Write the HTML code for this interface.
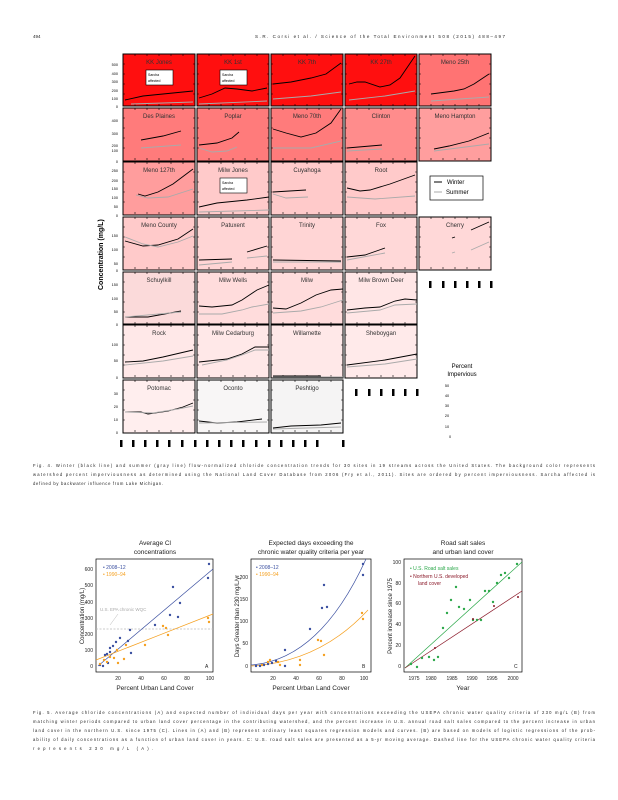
<!DOCTYPE html>
<html><head><meta charset="utf-8"><style>
html,body{margin:0;padding:0;background:#fff;}
svg{display:block;font-family:"Liberation Sans",sans-serif;}
.pl text{font-size:6px;fill:#333;}
.k{fill:none;stroke:#000;stroke-width:0.9}
.g{fill:none;stroke:#aaa;stroke-width:0.9}
.cap{font-size:4.2px;fill:#222}
</style></head><body>
<svg width="618" height="800" viewBox="0 0 618 800" xmlns="http://www.w3.org/2000/svg">
<text x="33" y="38" font-size="4.5" fill="#222">494</text>
<text x="255" y="38" font-size="4.5" fill="#222" textLength="250">S.R. Corsi et al. / Science of the Total Environment 508 (2015) 488–497</text>

<defs>
<g id="tk" stroke="#000" stroke-width="0.6">
<path d="M12,52v-2M24,52v-2M36,52v-2M48,52v-2M60,52v-2M12,0v2M24,0v2M36,0v2M48,0v2M60,0v2M0,10h2M0,20h2M0,30h2M0,40h2M72,10h-2M72,20h-2M72,30h-2M72,40h-2"/>
</g>
<g id="sb"><rect x="23" y="16" width="27" height="15" fill="#fff" stroke="#000" stroke-width="0.6"/><text x="25" y="22" font-size="3.5" fill="#000">Sarcha</text><text x="25" y="28" font-size="3.5" fill="#000">affected</text></g>
</defs>

<g class="pl">
<!-- Row 1 -->
<g transform="translate(123,54)"><rect width="72" height="52" fill="#ff0f0f" stroke="#000"/><use href="#tk"/><path class="k" d="M2,46 L20,42 L40,40 L70,37"/><path class="g" d="M8,50 L40,49 L70,48"/><use href="#sb"/><text x="36" y="10" text-anchor="middle">KK Jones</text></g>
<g transform="translate(197,54)"><rect width="72" height="52" fill="#ff0f0f" stroke="#000"/><use href="#tk"/><path class="k" d="M2,44 L15,40 L28,34 L40,35 L55,37 L70,34"/><path class="g" d="M2,50 L70,47"/><use href="#sb"/><text x="36" y="10" text-anchor="middle">KK 1st</text></g>
<g transform="translate(271,54)"><rect width="72" height="52" fill="#ff0f0f" stroke="#000"/><use href="#tk"/><path class="k" d="M2,30 L20,28 L40,24 L55,20 L70,9"/><path class="g" d="M2,45 L40,42 L70,38"/><text x="36" y="10" text-anchor="middle">KK 7th</text></g>
<g transform="translate(345,54)"><rect width="72" height="52" fill="#ff0f0f" stroke="#000"/><use href="#tk"/><path class="k" d="M4,30 L12,28 L20,28 L35,33 L45,31 L55,24 L70,2"/><path class="g" d="M4,46 L40,42 L70,37"/><text x="36" y="10" text-anchor="middle">KK 27th</text></g>
<g transform="translate(419,54)"><rect width="72" height="52" fill="#ff7373" stroke="#000"/><use href="#tk"/><path class="k" d="M12,40 L35,37 L45,35 L55,30 L70,20"/><path class="g" d="M12,47 L70,43"/><text x="36" y="10" text-anchor="middle">Meno 25th</text></g>
<!-- Row 2 -->
<g transform="translate(123,108)"><rect width="72" height="53" fill="#ff7b7b" stroke="#000"/><use href="#tk"/><path class="k" d="M18,32 L40,28 L58,23"/><path class="g" d="M18,40 L58,37"/><text x="36" y="10" text-anchor="middle">Des Plaines</text></g>
<g transform="translate(197,108)"><rect width="72" height="53" fill="#ff7b7b" stroke="#000"/><use href="#tk"/><path class="k" d="M2,37 L20,35 L35,30 L42,24"/><path class="g" d="M2,40 L15,44 L30,43 L40,39"/><text x="36" y="10" text-anchor="middle">Poplar</text></g>
<g transform="translate(271,108)"><rect width="72" height="53" fill="#ff7b7b" stroke="#000"/><use href="#tk"/><path class="k" d="M2,21 L15,25 L30,29 L45,25 L60,15 L70,1"/><path class="g" d="M2,40 L40,40 L70,33"/><text x="36" y="10" text-anchor="middle">Meno 70th</text></g>
<g transform="translate(345,108)"><rect width="72" height="53" fill="#ff8c8c" stroke="#000"/><use href="#tk"/><path class="k" d="M2,40 L37,37"/><path class="g" d="M2,43 L37,41"/><text x="36" y="10" text-anchor="middle">Clinton</text></g>
<g transform="translate(419,108)"><rect width="72" height="53" fill="#ff9e9e" stroke="#000"/><use href="#tk"/><path class="k" d="M15,41 L30,38 L50,33 L70,25"/><path class="g" d="M15,43 L70,36"/><text x="36" y="10" text-anchor="middle">Meno Hampton</text></g>
<!-- Row 3 -->
<g transform="translate(123,162)"><rect width="72" height="53" fill="#ff9d9d" stroke="#000"/><use href="#tk"/><path class="k" d="M15,32 L22,34 L35,30 L50,22 L70,7"/><path class="g" d="M13,33 L25,36 L45,35 L70,27"/><text x="36" y="10" text-anchor="middle">Meno 127th</text></g>
<g transform="translate(197,162)"><rect width="72" height="53" fill="#ffcaca" stroke="#000"/><use href="#tk"/><path class="k" d="M2,45 L20,41 L50,38 L72,35"/><path class="g" d="M2,50 L72,48"/><use href="#sb"/><text x="36" y="10" text-anchor="middle">Milw Jones</text></g>
<g transform="translate(271,162)"><rect width="72" height="53" fill="#ffcaca" stroke="#000"/><use href="#tk"/><path class="k" d="M2,30 L35,28"/><path class="g" d="M2,32 L15,36 L37,35"/><text x="36" y="10" text-anchor="middle">Cuyahoga</text></g>
<g transform="translate(345,162)"><rect width="72" height="53" fill="#ffcaca" stroke="#000"/><use href="#tk"/><path class="k" d="M2,26 L15,29 L25,28 L45,22 L70,13"/><path class="g" d="M2,35 L30,37 L70,34"/><text x="36" y="10" text-anchor="middle">Root</text></g>
<!-- Row 4 -->
<g transform="translate(123,217)"><rect width="72" height="53" fill="#ffcaca" stroke="#000"/><use href="#tk"/><path class="k" d="M2,24 L20,29 L35,28 L55,22 L70,12"/><path class="g" d="M2,20 L20,27 L35,30 L55,25 L70,19"/><text x="36" y="10" text-anchor="middle">Meno County</text></g>
<g transform="translate(197,217)"><rect width="72" height="53" fill="#ffd5d5" stroke="#000"/><use href="#tk"/><path class="k" d="M2,43 L35,42 M50,35 L70,29"/><path class="g" d="M2,48 L35,45 M50,41 L70,39"/><text x="36" y="10" text-anchor="middle">Patuxent</text></g>
<g transform="translate(271,217)"><rect width="72" height="53" fill="#ffd5d5" stroke="#000"/><use href="#tk"/><path class="k" stroke-width="1.6" d="M2,43 L70,44"/><path class="g" d="M2,45 L70,45"/><text x="36" y="10" text-anchor="middle">Trinity</text></g>
<g transform="translate(345,217)"><rect width="72" height="53" fill="#ffd8d8" stroke="#000"/><use href="#tk"/><path class="k" d="M2,40 L20,38 L40,31"/><path class="g" d="M2,43 L40,36"/><text x="36" y="10" text-anchor="middle">Fox</text></g>
<g transform="translate(419,217)"><rect width="72" height="53" fill="#ffd8d8" stroke="#000"/><use href="#tk"/><path class="k" d="M33,21 L36,20 M52,13 L70,5"/><path class="g" d="M33,36 L36,35 M52,33 L70,25"/><text x="36" y="10" text-anchor="middle">Cherry</text></g>
<!-- Row 5 -->
<g transform="translate(123,272)"><rect width="72" height="52" fill="#fbdada" stroke="#000"/><use href="#tk"/><path class="k" d="M2,45 L25,45 L58,39"/><path class="g" d="M2,45 L58,40"/><text x="36" y="10" text-anchor="middle">Schuylkill</text></g>
<g transform="translate(197,272)"><rect width="72" height="52" fill="#ffdcdc" stroke="#000"/><use href="#tk"/><path class="k" d="M2,34 L15,35 L35,33 L45,28 L60,18 L72,13"/><path class="g" d="M2,42 L25,42 L45,38 L55,35 L72,32"/><text x="36" y="10" text-anchor="middle">Milw Wells</text></g>
<g transform="translate(271,272)"><rect width="72" height="52" fill="#ffdcdc" stroke="#000"/><use href="#tk"/><path class="k" d="M2,36 L15,37 L30,31 L45,23 L60,18 L72,17"/><path class="g" d="M2,41 L30,39 L50,35 L72,28"/><text x="36" y="10" text-anchor="middle">Milw</text></g>
<g transform="translate(345,272)"><rect width="72" height="52" fill="#ffe6e6" stroke="#000"/><use href="#tk"/><path class="k" d="M2,38 L20,36 L35,35 L50,29 L60,27 L72,28"/><path class="g" d="M2,41 L35,38 L50,33 L72,32"/><text x="36" y="10" text-anchor="middle">Milw Brown Deer</text></g>
<!-- Row 6 -->
<g transform="translate(123,325)"><rect width="72" height="53" fill="#ffe8e8" stroke="#000"/><use href="#tk"/><path class="k" d="M2,37 L20,36 L40,32 L70,25"/><path class="g" d="M2,40 L40,36 L70,31"/><text x="36" y="10" text-anchor="middle">Rock</text></g>
<g transform="translate(197,325)"><rect width="72" height="53" fill="#ffe8e8" stroke="#000"/><use href="#tk"/><path class="k" d="M2,37 L30,34 L45,29 L58,22 L72,22"/><path class="g" d="M5,40 L30,35 L45,30 L58,25 L72,25"/><text x="36" y="10" text-anchor="middle">Milw Cedarburg</text></g>
<g transform="translate(271,325)"><rect width="72" height="53" fill="#ffe8e8" stroke="#000"/><use href="#tk"/><path class="k" d="M2,51 L50,51"/><path class="g" d="M2,52 L72,52"/><text x="36" y="10" text-anchor="middle">Willamette</text></g>
<g transform="translate(345,325)"><rect width="72" height="53" fill="#ffeaea" stroke="#000"/><use href="#tk"/><path class="k" d="M2,40 L40,35 L72,29"/><path class="g" d="M2,42 L40,39 L72,34"/><text x="36" y="10" text-anchor="middle">Sheboygan</text></g>
<!-- Row 7 -->
<g transform="translate(123,380)"><rect width="72" height="53" fill="#ffeeee" stroke="#000"/><use href="#tk"/><path class="k" d="M2,32 L18,32 L25,34 L45,31 L60,27 L70,23"/><path class="g" d="M2,32 L30,33 L55,29 L70,26"/><text x="36" y="10" text-anchor="middle">Potomac</text></g>
<g transform="translate(197,380)"><rect width="72" height="53" fill="#f8f6f6" stroke="#000"/><use href="#tk"/><path class="k" d="M2,41 L20,43 L40,42 L65,39"/><path class="g" d="M2,43 L70,42"/><text x="36" y="10" text-anchor="middle">Oconto</text></g>
<g transform="translate(271,380)"><rect width="72" height="53" fill="#f5f4f4" stroke="#000"/><use href="#tk"/><path class="k" d="M2,48 L20,46 L50,45 L70,43"/><path class="g" d="M2,49 L70,47"/><text x="36" y="10" text-anchor="middle">Peshtigo</text></g>
</g>

<!-- y tick labels left -->
<g font-size="3.8" fill="#000" text-anchor="end">
<text x="118" y="66">500</text><text x="118" y="75">400</text><text x="118" y="83">300</text><text x="118" y="92">200</text><text x="118" y="100">100</text><text x="118" y="108">0</text>
<text x="118" y="122">400</text><text x="118" y="135">300</text><text x="118" y="147">200</text><text x="118" y="152">100</text><text x="118" y="163">0</text>
<text x="118" y="172">250</text><text x="118" y="182">200</text><text x="118" y="190">150</text><text x="118" y="199">100</text><text x="118" y="208">50</text><text x="118" y="217">0</text>
<text x="118" y="237">150</text><text x="118" y="251">100</text><text x="118" y="265">50</text><text x="118" y="272">0</text>
<text x="118" y="286">150</text><text x="118" y="300">100</text><text x="118" y="313">50</text><text x="118" y="326">0</text>
<text x="118" y="346">100</text><text x="118" y="362">50</text><text x="118" y="379">0</text>
<text x="118" y="395">30</text><text x="118" y="408">20</text><text x="118" y="421">10</text><text x="118" y="434">0</text>
</g>
<text transform="translate(103,290) rotate(-90)" font-size="7" font-weight="bold" fill="#000">Concentration    (mg/L)</text>

<!-- legend -->
<rect x="430" y="176" width="53" height="24" fill="#fff" stroke="#000" stroke-width="0.7"/>
<line x1="434" y1="182" x2="442" y2="182" stroke="#000"/><text x="447" y="184" font-size="6">Winter</text>
<line x1="434" y1="192" x2="442" y2="192" stroke="#aaa"/><text x="446" y="194" font-size="6">Summer</text>

<!-- x tick glyphs -->
<g fill="#000">
<rect x="120" y="440" width="2.5" height="7"/><rect x="132" y="440" width="2.5" height="7"/><rect x="144" y="440" width="2.5" height="7"/><rect x="156" y="440" width="2.5" height="7"/><rect x="168" y="440" width="2.5" height="7"/><rect x="181" y="440" width="2.5" height="7"/>
<rect x="194" y="440" width="2.5" height="7"/><rect x="206" y="440" width="2.5" height="7"/><rect x="218" y="440" width="2.5" height="7"/><rect x="230" y="440" width="2.5" height="7"/><rect x="242" y="440" width="2.5" height="7"/><rect x="255" y="440" width="2.5" height="7"/>
<rect x="268" y="440" width="2.5" height="7"/><rect x="280" y="440" width="2.5" height="7"/><rect x="292" y="440" width="2.5" height="7"/><rect x="304" y="440" width="2.5" height="7"/><rect x="316" y="440" width="2.5" height="7"/><rect x="342" y="440" width="2.5" height="7"/>
<rect x="355" y="389" width="2.5" height="7"/><rect x="368" y="389" width="2.5" height="7"/><rect x="380" y="389" width="2.5" height="7"/><rect x="392" y="389" width="2.5" height="7"/><rect x="404" y="389" width="2.5" height="7"/><rect x="416" y="389" width="2.5" height="7"/>
<rect x="429" y="281" width="2.5" height="7"/><rect x="442" y="281" width="2.5" height="7"/><rect x="454" y="281" width="2.5" height="7"/><rect x="466" y="281" width="2.5" height="7"/><rect x="478" y="281" width="2.5" height="7"/><rect x="490" y="281" width="2.5" height="7"/>
</g>
<text x="462" y="368" font-size="6" text-anchor="middle">Percent</text>
<text x="462" y="376" font-size="6" text-anchor="middle">Impervious</text>
<g font-size="3.8" text-anchor="middle"><text x="447" y="387">50</text><text x="447" y="397">40</text><text x="447" y="407">30</text><text x="447" y="417">20</text><text x="447" y="428">10</text><text x="450" y="438">0</text></g>

<!-- caption 1 -->
<g class="cap">
<text x="33" y="467" textLength="562" lengthAdjust="spacing">Fig. 4. Winter (black line) and summer (gray line) flow-normalized chloride concentration trends for 30 sites in 19 streams across the United States. The background color represents</text>
<text x="33" y="476" textLength="562" lengthAdjust="spacing">watershed percent imperviousness as determined using the National Land Cover Database from 2006 (Fry et al., 2011). Sites are ordered by percent imperviousness. Sarcha affected is</text>
<text x="33" y="485" textLength="130" lengthAdjust="spacing">defined by backwater influence from Lake Michigan.</text>
</g>

<!-- Chart A -->
<g font-size="6.5" fill="#222">
<text x="155" y="545" text-anchor="middle">Average Cl</text><text x="155" y="554" text-anchor="middle">concentrations</text>
<rect x="96" y="559" width="117" height="113" fill="none" stroke="#000" stroke-width="0.7"/>
<g font-size="5" text-anchor="end"><text x="93" y="668">0</text><text x="93" y="652">100</text><text x="93" y="636">200</text><text x="93" y="620">300</text><text x="93" y="604">400</text><text x="93" y="587">500</text><text x="93" y="571">600</text></g>
<g font-size="5" text-anchor="middle"><text x="118" y="680">20</text><text x="141" y="680">40</text><text x="164" y="680">60</text><text x="187" y="680">80</text><text x="210" y="680">100</text></g>
<text x="155" y="690" text-anchor="middle">Percent Urban Land Cover</text>
<text transform="translate(84,616) rotate(-90)" text-anchor="middle" font-size="6">Concentration (mg/L)</text>
<line x1="96" y1="629" x2="213" y2="629" stroke="#bbb" stroke-dasharray="2,1.5" stroke-width="0.7"/>
<text x="100" y="611" font-size="4.5" fill="#aaa">U.S. EPA chronic WQC</text>
<line x1="110" y1="625" x2="118" y2="614" stroke="#bbb" stroke-width="0.5"/>
<line x1="98" y1="666" x2="213" y2="569" stroke="#3a4fa0" stroke-width="0.7"/>
<line x1="96" y1="660" x2="213" y2="614" stroke="#f5a020" stroke-width="0.7"/>
<g fill="#3a4fa0"><circle cx="100" cy="665" r="1.2"/><circle cx="103" cy="666" r="1.2"/><circle cx="105" cy="655" r="1.2"/><circle cx="107" cy="654" r="1.2"/><circle cx="108" cy="663" r="1.2"/><circle cx="110" cy="652" r="1.2"/><circle cx="110" cy="648" r="1.2"/><circle cx="113" cy="646" r="1.2"/><circle cx="116" cy="642" r="1.2"/><circle cx="120" cy="638" r="1.2"/><circle cx="128" cy="641" r="1.2"/><circle cx="131" cy="653" r="1.2"/><circle cx="130" cy="630" r="1.2"/><circle cx="155" cy="625" r="1.2"/><circle cx="170" cy="615" r="1.2"/><circle cx="173" cy="587" r="1.2"/><circle cx="178" cy="617" r="1.2"/><circle cx="180" cy="603" r="1.2"/><circle cx="208" cy="578" r="1.2"/><circle cx="209" cy="564" r="1.2"/></g>
<g fill="#f5a020"><circle cx="100" cy="664" r="1.2"/><circle cx="104" cy="660" r="1.2"/><circle cx="107" cy="662" r="1.2"/><circle cx="110" cy="657" r="1.2"/><circle cx="114" cy="658" r="1.2"/><circle cx="117" cy="650" r="1.2"/><circle cx="118" cy="663" r="1.2"/><circle cx="124" cy="659" r="1.2"/><circle cx="126" cy="645" r="1.2"/><circle cx="145" cy="645" r="1.2"/><circle cx="163" cy="626" r="1.2"/><circle cx="166" cy="628" r="1.2"/><circle cx="168" cy="635" r="1.2"/><circle cx="208" cy="618" r="1.2"/><circle cx="209" cy="622" r="1.2"/></g>
<text x="103" y="569" font-size="5" fill="#3a4fa0">• 2008–12</text><text x="103" y="576" font-size="5" fill="#f5a020">• 1990–94</text>
<text x="205" y="668" font-size="5">A</text>
</g>

<!-- Chart B -->
<g font-size="6.5" fill="#222">
<text x="311" y="545" text-anchor="middle">Expected days exceeding the</text><text x="311" y="554" text-anchor="middle">chronic water quality criteria per year</text>
<rect x="251" y="559" width="120" height="113" fill="none" stroke="#000" stroke-width="0.7"/>
<g font-size="5" text-anchor="end"><text x="248" y="668">0</text><text x="248" y="645">50</text><text x="248" y="623">100</text><text x="248" y="601">150</text><text x="248" y="579">200</text></g>
<g font-size="5" text-anchor="middle"><text x="273" y="680">20</text><text x="296" y="680">40</text><text x="319" y="680">60</text><text x="342" y="680">80</text><text x="364" y="680">100</text></g>
<text x="311" y="690" text-anchor="middle">Percent Urban Land Cover</text>
<text transform="translate(239,616) rotate(-90)" text-anchor="middle" font-size="6">Days Greater than 230 mg/L/yr</text>
<path d="M251,665 Q320,660 366,559" fill="none" stroke="#3a4fa0" stroke-width="0.7"/>
<path d="M251,666 Q320,662 368,610" fill="none" stroke="#f5a020" stroke-width="0.7"/>
<g fill="#3a4fa0"><circle cx="256" cy="666" r="1.2"/><circle cx="260" cy="666" r="1.2"/><circle cx="264" cy="665" r="1.2"/><circle cx="268" cy="664" r="1.2"/><circle cx="272" cy="663" r="1.2"/><circle cx="276" cy="661" r="1.2"/><circle cx="285" cy="666" r="1.2"/><circle cx="285" cy="650" r="1.2"/><circle cx="310" cy="629" r="1.2"/><circle cx="322" cy="608" r="1.2"/><circle cx="324" cy="585" r="1.2"/><circle cx="327" cy="607" r="1.2"/><circle cx="363" cy="564" r="1.2"/><circle cx="363" cy="575" r="1.2"/></g>
<g fill="#f5a020"><circle cx="262" cy="665" r="1.2"/><circle cx="268" cy="662" r="1.2"/><circle cx="270" cy="660" r="1.2"/><circle cx="278" cy="662" r="1.2"/><circle cx="280" cy="665" r="1.2"/><circle cx="300" cy="660" r="1.2"/><circle cx="300" cy="665" r="1.2"/><circle cx="318" cy="640" r="1.2"/><circle cx="321" cy="641" r="1.2"/><circle cx="324" cy="655" r="1.2"/><circle cx="362" cy="613" r="1.2"/><circle cx="363" cy="619" r="1.2"/></g>
<text x="256" y="569" font-size="5" fill="#3a4fa0">• 2008–12</text><text x="256" y="576" font-size="5" fill="#f5a020">• 1990–94</text>
<text x="362" y="668" font-size="5">B</text>
</g>

<!-- Chart C -->
<g font-size="6.5" fill="#222">
<text x="463" y="545" text-anchor="middle">Road salt sales</text><text x="463" y="554" text-anchor="middle">and urban land cover</text>
<rect x="404" y="559" width="118" height="113" fill="none" stroke="#000" stroke-width="0.7"/>
<g font-size="5" text-anchor="end"><text x="401" y="668">0</text><text x="401" y="647">20</text><text x="401" y="626">40</text><text x="401" y="605">60</text><text x="401" y="585">80</text><text x="401" y="564">100</text></g>
<g font-size="5" text-anchor="middle"><text x="414" y="680">1975</text><text x="431" y="680">1980</text><text x="452" y="680">1985</text><text x="472" y="680">1990</text><text x="492" y="680">1995</text><text x="513" y="680">2000</text></g>
<text x="463" y="690" text-anchor="middle">Year</text>
<text transform="translate(392,616) rotate(-90)" text-anchor="middle" font-size="6">Percent increase since 1975</text>
<line x1="405" y1="668" x2="522" y2="562" stroke="#2ca84a" stroke-width="0.7"/>
<line x1="405" y1="668" x2="522" y2="591" stroke="#8b1a2a" stroke-width="0.7"/>
<g fill="#2ca84a"><circle cx="411" cy="664" r="1.2"/><circle cx="417" cy="667" r="1.2"/><circle cx="422" cy="658" r="1.2"/><circle cx="429" cy="657" r="1.2"/><circle cx="434" cy="660" r="1.2"/><circle cx="438" cy="657" r="1.2"/><circle cx="443" cy="628" r="1.2"/><circle cx="447" cy="613" r="1.2"/><circle cx="451" cy="600" r="1.2"/><circle cx="456" cy="587" r="1.2"/><circle cx="459" cy="607" r="1.2"/><circle cx="464" cy="609" r="1.2"/><circle cx="470" cy="600" r="1.2"/><circle cx="473" cy="620" r="1.2"/><circle cx="477" cy="620" r="1.2"/><circle cx="481" cy="620" r="1.2"/><circle cx="485" cy="591" r="1.2"/><circle cx="489" cy="591" r="1.2"/><circle cx="493" cy="602" r="1.2"/><circle cx="497" cy="583" r="1.2"/><circle cx="501" cy="575" r="1.2"/><circle cx="505" cy="573" r="1.2"/><circle cx="509" cy="578" r="1.2"/><circle cx="517" cy="564" r="1.2"/></g>
<g fill="#8b1a2a"><circle cx="435" cy="648" r="1"/><circle cx="473" cy="619" r="1"/><circle cx="494" cy="606" r="1"/><circle cx="518" cy="597" r="1"/></g>
<text x="410" y="570" font-size="5" fill="#2ca84a">• U.S. Road salt sales</text>
<text x="410" y="578" font-size="5" fill="#8b1a2a">• Northern U.S. developed</text>
<text x="418" y="585" font-size="5" fill="#8b1a2a">land cover</text>
<text x="514" y="668" font-size="5">C</text>
</g>

<!-- caption 2 -->
<g class="cap">
<text x="33" y="714" textLength="562" lengthAdjust="spacing">Fig. 5. Average chloride concentrations (A) and expected number of individual days per year with concentrations exceeding the USEPA chronic water quality criteria of 230 mg/L (B) from</text>
<text x="33" y="723" textLength="562" lengthAdjust="spacing">matching winter periods compared to urban land cover percentage in the contributing watershed, and the percent increase in U.S. annual road salt sales compared to the percent increase in urban</text>
<text x="33" y="732" textLength="562" lengthAdjust="spacing">land cover in the northern U.S. since 1975 (C). Lines in (A) and (B) represent ordinary least squares regression models and curves. (B) are based on models of logistic regressions of the prob-</text>
<text x="33" y="741" textLength="562" lengthAdjust="spacing">ability of daily concentrations as a function of urban land cover in years. C: U.S. road salt sales are presented as a 5-yr moving average. Dashed line for the USEPA chronic water quality criteria</text>
<text x="33" y="750" textLength="120" lengthAdjust="spacing">represents 230 mg/L (A).</text>
</g>
</svg>
</body></html>
